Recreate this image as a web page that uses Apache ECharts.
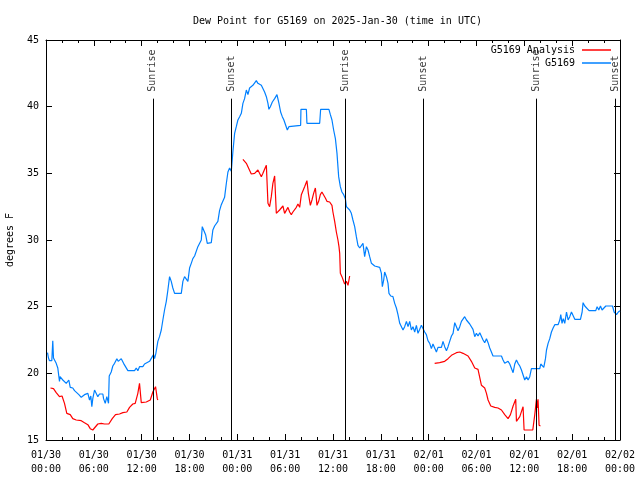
<!DOCTYPE html>
<html>
<head>
<meta charset="utf-8">
<script src="https://cdn.jsdelivr.net/npm/echarts@6/dist/echarts.min.js"></script>
<style>html,body{margin:0;padding:0;background:#fff}#c{width:640px;height:480px}</style>
</head>
<body>
<div id="c"></div>
<script>
// ---- data (hours since 2025-01-30 00:00 UTC) ----
const tickLabels = ['01/30\n00:00','01/30\n06:00','01/30\n12:00','01/30\n18:00','01/31\n00:00','01/31\n06:00','01/31\n12:00','01/31\n18:00','02/01\n00:00','02/01\n06:00','02/01\n12:00','02/01\n18:00','02/02\n00:00'];

const sunTimes = [13.40, 23.22, 37.52, 47.28, 61.46, 71.42];
const sunNames = ['Sunrise','Sunset','Sunrise','Sunset','Sunrise','Sunset'];

const blueHours = [0.19,0.31,0.44,0.73,0.85,0.94,1.07,1.28,1.48,1.69,1.76,1.91,2.11,2.32,2.54,2.70,2.86,3.04,3.36,3.58,3.79,4.12,4.42,4.64,4.83,5.05,5.25,5.46,5.62,5.75,5.87,6.09,6.30,6.50,6.71,7.13,7.22,7.43,7.63,7.84,7.93,8.18,8.38,8.60,8.89,9.06,9.22,9.44,9.73,9.98,10.27,11.11,11.32,11.52,11.73,12.15,12.36,12.58,12.99,13.28,13.49,13.62,13.78,14.03,14.24,14.46,14.66,14.87,15.09,15.29,15.50,15.71,15.91,16.13,16.97,17.17,17.38,17.60,17.80,18.01,18.22,18.42,18.64,18.85,19.05,19.26,19.48,19.60,19.80,20.02,20.23,20.43,20.73,20.93,21.15,21.36,21.56,21.77,21.99,22.19,22.40,22.61,22.82,23.03,23.24,23.44,23.66,23.87,24.07,24.29,24.50,24.70,24.91,25.13,25.33,25.54,25.75,25.95,26.17,26.38,26.58,26.79,27.01,27.21,27.42,27.64,27.84,27.96,28.14,28.39,28.68,28.97,29.22,29.43,29.64,29.84,30.06,30.27,30.47,30.62,31.94,31.98,32.66,32.73,34.33,34.45,35.49,35.67,35.87,36.08,36.30,36.50,36.71,36.92,37.12,37.34,37.55,37.68,37.88,38.09,38.30,38.50,38.72,38.93,39.13,39.35,39.56,39.76,39.97,40.19,40.39,40.60,40.82,41.02,41.23,41.86,42.07,42.19,42.36,42.48,42.70,42.90,43.02,43.24,43.52,43.74,43.95,44.15,44.37,44.58,44.78,44.99,45.21,45.41,45.62,45.83,46.03,46.25,46.46,46.66,46.88,47.09,47.29,47.50,47.71,47.91,48.13,48.34,48.54,48.75,48.97,49.17,49.60,49.80,50.01,50.23,50.43,50.64,50.86,51.06,51.27,51.48,51.68,51.90,52.11,52.31,52.52,52.74,52.94,53.15,53.36,53.56,53.78,53.99,54.19,54.41,54.62,54.82,55.03,55.25,55.45,55.66,55.87,56.07,56.29,56.50,57.13,57.33,57.54,57.76,57.96,58.17,58.38,58.59,58.80,59.01,59.21,59.43,59.64,59.84,60.05,60.27,60.47,60.68,60.89,61.94,62.06,62.27,62.44,62.65,62.78,62.98,63.19,63.40,63.61,63.82,64.23,64.45,64.57,64.73,64.88,65.07,65.29,65.49,65.70,65.91,66.12,66.33,67.04,67.25,67.37,67.58,67.83,68.12,68.96,69.13,69.34,69.55,69.75,69.97,70.22,71.06,71.26,71.56,71.79,72.0];
const blueValues = [21.55,21.15,20.95,20.95,22.45,21.15,21.0,20.75,20.4,19.4,19.75,19.7,19.5,19.4,19.25,19.25,19.5,18.95,18.9,18.7,18.55,18.4,18.2,18.2,18.4,18.25,18.5,18.0,18.3,17.5,18.1,18.75,18.7,18.25,18.45,18.45,18.1,17.75,18.25,17.75,19.8,20.1,20.55,20.75,21.1,20.9,21.0,21.1,20.75,20.65,20.2,20.2,20.4,20.2,20.5,20.5,20.7,20.85,20.9,21.2,21.4,21.1,21.5,22.4,22.75,23.25,24.0,24.75,25.4,26.25,27.25,26.9,26.4,26.0,26.0,26.9,27.25,27.15,26.9,27.9,28.25,28.6,28.8,28.8,29.5,29.55,30.0,31.0,30.95,30.4,29.75,29.6,29.8,30.75,31.05,31.05,31.4,32.2,32.65,32.55,33.2,34.2,35.1,35.4,35.15,36.6,38.0,38.5,39.0,39.25,39.5,40.25,40.6,41.25,40.9,41.4,41.5,41.6,41.75,41.95,41.75,41.85,41.6,41.75,41.1,40.75,40.25,39.8,40.0,40.35,40.6,40.9,40.25,39.6,39.25,39.0,38.9,38.25,38.5,38.6,38.6,39.8,39.8,38.75,38.75,39.8,39.8,39.4,39.0,38.25,37.6,36.5,34.75,34.0,33.6,33.4,33.1,32.5,32.45,32.25,32.0,31.5,31.0,30.25,29.6,29.4,29.25,29.75,28.75,29.5,29.25,28.75,28.25,28.4,28.05,27.95,27.5,26.5,27.0,27.6,27.25,26.75,26.0,25.8,25.75,25.25,24.9,24.4,23.75,23.8,23.25,23.5,23.9,23.5,23.9,23.25,23.5,23.1,23.6,23.0,23.3,23.6,23.75,23.1,22.9,22.45,22.25,21.85,22.2,22.2,21.6,21.95,21.95,22.4,22.0,21.7,22.0,22.4,22.8,23.0,23.8,23.5,23.2,23.5,23.9,23.8,24.25,24.0,23.9,23.7,23.7,23.3,22.75,23.0,22.8,23.05,23.0,22.5,22.3,22.6,22.3,21.9,21.6,21.3,21.35,21.3,21.3,21.0,20.75,20.65,20.9,20.7,20.55,20.05,20.7,21.0,20.75,20.55,20.25,20.35,19.5,19.75,19.5,19.75,20.35,20.35,20.7,20.6,20.45,21.1,21.75,22.25,22.6,23.1,23.4,23.65,23.65,24.0,24.4,23.75,24.1,23.75,24.6,24.0,24.25,24.6,24.5,24.05,24.05,24.6,25.3,25.05,25.05,24.7,24.7,25.0,24.75,25.05,24.75,24.85,25.05,25.05,24.6,24.4,24.6,24.7];

const redHours = [0.56,0.94,1.28,1.69,2.01,2.32,2.61,3.04,3.36,3.79,4.42,4.83,5.25,5.55,5.87,6.09,6.50,6.93,7.34,7.88,8.31,8.72,9.22,9.64,10.14,10.48,10.89,11.19,11.52,11.73,11.95,12.58,13.08,13.40,13.74,13.96,14.03,
  19.0,
  24.70,25.13,25.75,26.17,26.58,26.79,27.01,27.21,27.42,27.64,27.84,28.05,28.26,28.46,28.68,28.89,29.09,29.30,29.52,29.72,29.93,30.15,30.35,30.56,30.77,30.97,31.19,31.40,31.60,31.82,32.03,32.23,32.44,32.73,32.91,33.16,33.36,33.57,33.79,33.99,34.20,34.41,34.61,34.83,35.04,35.24,35.58,35.79,35.87,35.99,36.21,36.42,36.62,36.75,36.84,36.92,37.12,37.34,37.46,37.68,37.88,38.09,
  43.0,
  48.75,49.38,50.01,50.43,50.86,51.48,51.90,52.31,52.94,53.36,53.78,54.19,54.62,54.82,55.03,55.25,55.45,55.79,56.29,56.70,57.13,57.54,57.96,58.26,58.59,58.92,59.01,59.43,59.84,59.97,60.47,61.06,61.31,61.52,61.62,61.72,61.85,62.02];
const redValues = [18.9,18.85,18.55,18.25,18.3,17.75,17.0,16.9,16.6,16.5,16.45,16.3,16.15,15.85,15.75,15.85,16.2,16.25,16.2,16.2,16.6,16.9,16.95,17.05,17.1,17.45,17.7,17.75,18.5,19.25,17.8,17.85,18.0,18.6,19.0,18.1,18.0,
  null,
  36.05,35.75,34.95,35.0,35.25,35.3,34.75,35.0,35.3,35.6,32.75,32.5,33.25,34.25,34.8,32.0,32.0,32.25,32.35,32.55,32.0,32.1,32.45,32.1,31.9,32.1,32.25,32.45,32.7,32.45,33.4,33.4,34.0,34.45,33.5,32.6,33.0,33.5,33.9,32.6,32.9,33.4,33.6,33.6,33.15,32.9,32.85,32.7,32.6,32.1,31.4,30.6,30.0,29.5,29.0,27.5,27.25,27.1,26.7,26.9,26.6,27.3,
  null,
  20.75,20.8,20.9,21.1,21.35,21.55,21.6,21.5,21.3,20.9,20.4,20.3,19.1,18.95,18.9,18.5,18.0,17.55,17.45,17.4,17.25,16.9,16.6,16.9,17.55,18.05,16.4,16.75,17.5,15.75,15.75,15.75,16.9,18.05,17.4,18.05,16.1,16.05];

// ---- chart ----
const FONT = '"DejaVu Sans Mono", "Liberation Mono", monospace';
const sunLineTop = 40.6;
const yMin = 15, yMax = 45;

const blueData = blueHours.map((h, i) => [h, blueValues[i]]);
const redData = redHours.map((h, i) => [h, redValues[i]]);

const chart = echarts.init(document.getElementById('c'), null, {renderer: 'canvas'});

const xBase = {
  type: 'value', min: 0, max: 72, interval: 6,
  axisLine: {show: true, onZero: false, lineStyle: {color: '#000', width: 1}},
  axisTick: {show: true, inside: true, length: 6, lineStyle: {color: '#000'}},
  minorTick: {show: true, splitNumber: 3, length: 3, lineStyle: {color: '#000'}},
  splitLine: {show: false}
};
const yBase = {
  type: 'value', min: yMin, max: yMax, interval: 5,
  axisLine: {show: true, onZero: false, lineStyle: {color: '#000', width: 1}},
  axisTick: {show: true, inside: true, length: 6, lineStyle: {color: '#000'}},
  splitLine: {show: false}
};

chart.setOption({
  animation: false,
  backgroundColor: '#fff',
  title: {
    text: 'Dew Point for G5169 on 2025-Jan-30 (time in UTC)',
    left: 188, top: 11,
    textStyle: {fontFamily: FONT, fontSize: 10, fontWeight: 'normal', color: '#000'}
  },
  legend: {
    data: ['G5169 Analysis', 'G5169'],
    orient: 'vertical', right: 29, top: 44, align: 'right',
    icon: 'rect', itemWidth: 29, itemHeight: 1.5, itemGap: 1,
    padding: 0,
    textStyle: {fontFamily: FONT, fontSize: 10, color: '#000', lineHeight: 12, padding: [0, 2, 0, 0]}
  },
  grid: {left: 46, right: 20, top: 40, bottom: 40, containLabel: false, outerBoundsMode: 'none'},
  xAxis: [
    Object.assign({}, xBase, {
      position: 'bottom',
      axisLabel: {
        show: true, margin: 8, color: '#000', fontFamily: FONT, fontSize: 10, lineHeight: 14,
        formatter: v => tickLabels[Math.round(v / 6)]
      }
    }),
    Object.assign({}, xBase, {position: 'top', axisLabel: {show: false}})
  ],
  yAxis: [
    Object.assign({}, yBase, {
      position: 'left',
      name: 'degrees F', nameLocation: 'middle', nameGap: 31, nameRotate: 90,
      nameTextStyle: {fontFamily: FONT, fontSize: 10, color: '#000'},
      axisLabel: {show: true, margin: 7, color: '#000', fontFamily: FONT, fontSize: 10}
    }),
    Object.assign({}, yBase, {position: 'right', axisLabel: {show: false}})
  ],
  series: [
    {
      name: 'G5169 Analysis', type: 'line', xAxisIndex: 0, yAxisIndex: 0,
      data: redData, showSymbol: false, symbol: 'none', connectNulls: false,
      lineStyle: {color: '#ff0000', width: 1.2}, itemStyle: {color: '#ff0000'}, z: 3
    },
    {
      name: 'G5169', type: 'line', xAxisIndex: 0, yAxisIndex: 0,
      data: blueData, showSymbol: false, symbol: 'none',
      lineStyle: {color: '#0080ff', width: 1.2}, itemStyle: {color: '#0080ff'}, z: 2
    },
    {
      name: 'sun', type: 'scatter', xAxisIndex: 0, yAxisIndex: 0, silent: true,
      symbolSize: 0,
      data: sunTimes.map((t, i) => ({name: sunNames[i], value: [t, sunLineTop]})),
      label: {
        show: true, position: 'top', distance: 7, rotate: 90,
        align: 'left', verticalAlign: 'middle',
        formatter: p => p.name,
        fontFamily: FONT, fontSize: 10, color: '#000'
      },
      markLine: {
        silent: true, symbol: ['none', 'none'], animation: false,
        label: {show: false},
        lineStyle: {color: '#000', type: 'solid', width: 1},
        data: sunTimes.map(t => [{coord: [t, yMin]}, {coord: [t, sunLineTop]}])
      },
      z: 4
    }
  ]
});
</script>
</body>
</html>
